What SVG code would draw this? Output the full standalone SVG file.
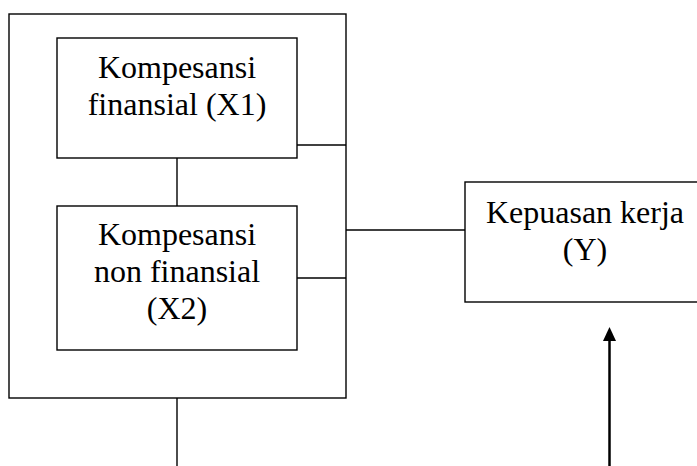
<svg xmlns="http://www.w3.org/2000/svg" width="697" height="466" viewBox="0 0 697 466">
<style>
.box{fill:none;stroke:#000;stroke-width:1.4}
.ln{fill:none;stroke:#000;stroke-width:1.4}
.t{font-family:"Liberation Serif","Times New Roman",serif;font-size:32px;fill:#000;text-anchor:middle}
</style>
<defs>
<marker id="ah" markerUnits="userSpaceOnUse" markerWidth="14" markerHeight="15" refX="7" refY="1" orient="auto-start-reverse" viewBox="0 0 14 15">
<path d="M7,0 L13.5,15 L0.5,15 Z" fill="#000"/>
</marker>
</defs>
<rect width="697" height="466" fill="#fff"/>
<g id="outer">
<rect class="box" x="9" y="14" width="337" height="384"/>
</g>
<g id="x1">
<rect class="box" x="57" y="38" width="240" height="120"/>
<text class="t" x="177" y="78">Kompesansi</text>
<text class="t" x="177" y="115">finansial (X1)</text>
</g>
<g id="x2">
<rect class="box" x="57" y="206" width="240" height="144"/>
<text class="t" x="177" y="245">Kompesansi</text>
<text class="t" x="177" y="282">non finansial</text>
<text class="t" x="177" y="319">(X2)</text>
</g>
<g id="y">
<rect class="box" x="465" y="182" width="240" height="120"/>
<text class="t" x="585" y="223">Kepuasan kerja</text>
<text class="t" x="585" y="260">(Y)</text>
</g>
<g id="connectors">
<line class="ln" x1="177" y1="158" x2="177" y2="206"/>
<line class="ln" x1="297" y1="145" x2="346" y2="145"/>
<line class="ln" x1="297" y1="278" x2="346" y2="278"/>
<line class="ln" x1="346" y1="230" x2="465" y2="230"/>
<line class="ln" x1="177" y1="398" x2="177" y2="466"/>
<line x1="609.5" y1="466" x2="609.5" y2="340" stroke="#000" stroke-width="2.5"/>
<path d="M609.5,327 L616,341 L603,341 Z" fill="#000"/>
</g>
</svg>
